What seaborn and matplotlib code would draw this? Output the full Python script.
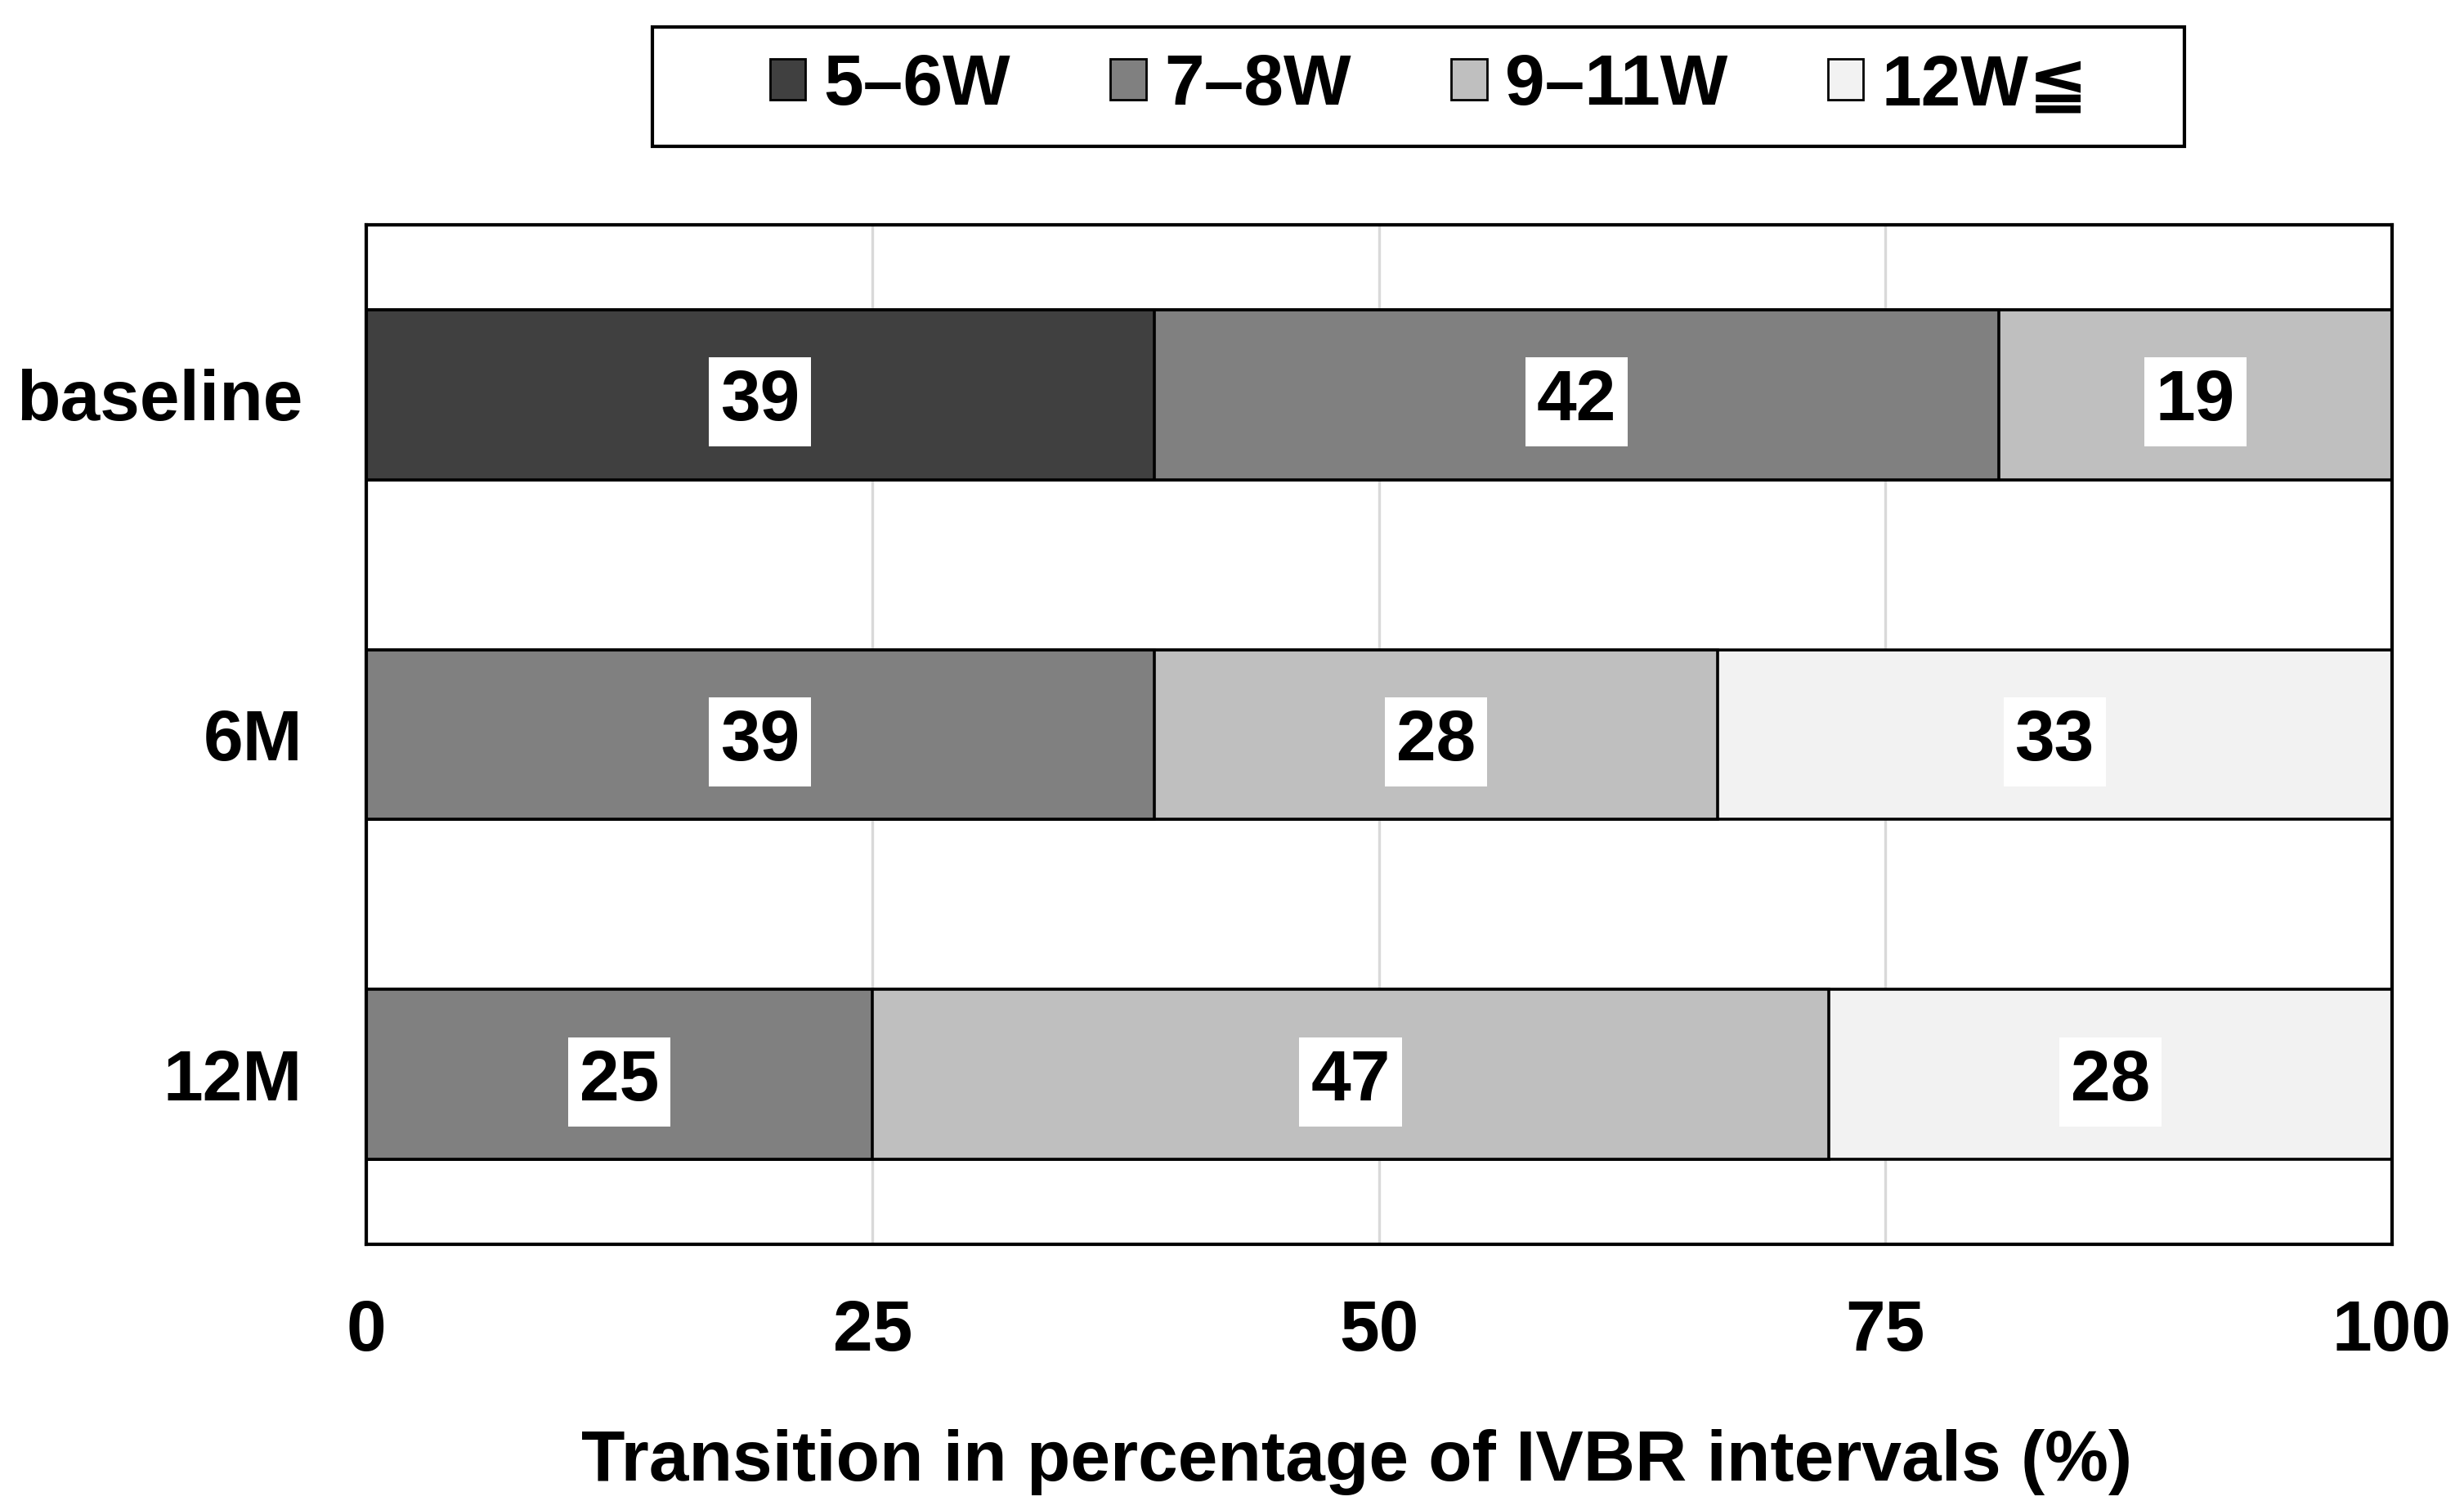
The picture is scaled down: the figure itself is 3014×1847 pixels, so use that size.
import numpy as np
import pandas as pd
import matplotlib
matplotlib.use('Agg')
from matplotlib import pyplot as plt
import matplotlib.patches as patches
import seaborn as sns

# data (percent of patients per IVBR interval)
groups = ['baseline', '6M', '12M']
intervals = ['5–6W', '7–8W', '9–11W', '12W≦']
vals = {
    '5–6W': [38.9, 0.0, 0.0],
    '7–8W': [41.7, 38.9, 25.0],
    '9–11W': [19.4, 27.8, 47.2],
    '12W≦': [0.0, 33.3, 27.8],
}
colors = ['#404040', '#808080', '#bfbfbf', '#f2f2f2']

sns.set_theme(style='white')
plt.rcParams['font.family'] = ['Liberation Sans', 'DejaVu Sans']
plt.rcParams['font.weight'] = 'bold'
for k in ['text.color', 'axes.labelcolor', 'xtick.color', 'ytick.color']:
    plt.rcParams[k] = 'black'

FS = 31.5

fig = plt.figure(figsize=(15.07, 9.235), dpi=200)
ax = fig.add_axes([0.1486, 0.1759, 0.8221, 0.6753])

df = pd.DataFrame(vals, index=groups)
cum = df.cumsum(axis=1)

# draw cumulative bars from the widest down so each segment shows
for i in reversed(range(len(intervals))):
    col = intervals[i]
    sns.barplot(x=cum[col].values, y=groups, orient='h', color=colors[i],
                width=0.5, edgecolor='black', linewidth=1.3, saturation=1,
                ax=ax, zorder=2)

# value labels in white boxes
for gi, g in enumerate(groups):
    left = 0
    for col in intervals:
        v = df.loc[g, col]
        if v > 0:
            ax.text(left + v / 2, gi, str(int(round(v))), ha='center',
                    va='center_baseline', fontsize=FS, fontweight='bold',
                    color='black', zorder=5,
                    bbox=dict(boxstyle='square,pad=0.16', fc='white', ec='none'))
        left += v

ax.set_xlim(0, 100)
ax.set_ylim(2.5, -0.5)
ax.set_xticks([0, 25, 50, 75, 100])
ax.tick_params(axis='both', length=0, labelsize=FS)
ax.tick_params(axis='y', pad=28)
ax.tick_params(axis='x', pad=24)
for lab in ax.get_xticklabels() + ax.get_yticklabels():
    lab.set_fontweight('bold')
ax.set_ylabel('')
ax.set_xlabel('Transition in percentage of IVBR intervals (%)', fontsize=FS,
              fontweight='bold', labelpad=28)
ax.xaxis.label.set_x(0.489)

ax.set_axisbelow(True)
ax.xaxis.grid(True, color='#d9d9d9', linewidth=1.2)
ax.yaxis.grid(False)
for sp in ax.spines.values():
    sp.set_color('black')
    sp.set_linewidth(1.5)
    sp.set_visible(True)

# legend
handles = [patches.Patch(facecolor=c, edgecolor='black', linewidth=1.0) for c in colors]
leg = fig.legend(handles, intervals, loc='center', bbox_to_anchor=(0.580, 0.9428),
                 ncol=4, frameon=False, handlelength=0.5,
                 handleheight=0.5, handletextpad=0.25, columnspacing=1.4,
                 prop={'weight': 'bold', 'size': FS})
fig.patches.append(patches.Rectangle((0.2647, 0.9032), 0.6218, 0.0791,
                                     transform=fig.transFigure, fill=False,
                                     edgecolor='black', linewidth=1.5))

fig.savefig('out.png', dpi=200)
